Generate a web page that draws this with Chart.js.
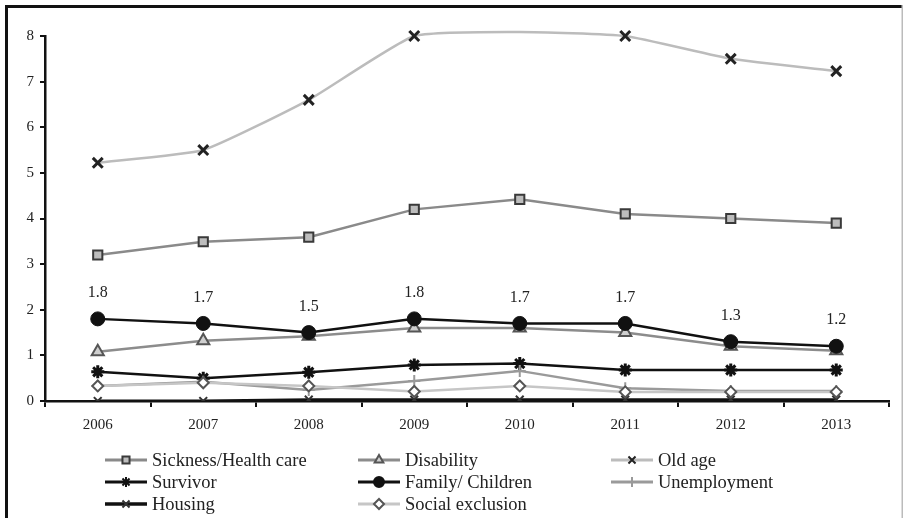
<!DOCTYPE html>
<html><head><meta charset="utf-8">
<script src="https://cdn.jsdelivr.net/npm/chart.js@4"></script>
<style>html,body{margin:0;padding:0;background:#fff}#wrap{width:903px;height:518px;position:relative}</style>
</head><body><div id="wrap"><canvas id="c" width="903" height="518"></canvas></div>
<script>
const years = ['2006','2007','2008','2009','2010','2011','2012','2013'];
const sickness = [3.2,3.49,3.59,4.2,4.42,4.1,4.0,3.9];
const disability = [1.08,1.32,1.42,1.6,1.6,1.5,1.2,1.1];
const oldAge = [5.22,5.5,6.6,8.0,8.09,8.0,7.5,7.23];
const survivor = [0.64,0.5,0.63,0.79,0.82,0.68,0.68,0.68];
const family = [1.8,1.7,1.5,1.8,1.7,1.7,1.3,1.2];
const unemployment = [0.33,0.42,0.24,0.44,0.66,0.28,0.22,0.22];
const housing = [0,0,0.03,0.03,0.03,0.03,0.03,0.03];
const socialExclusion = [0.33,0.4,0.33,0.21,0.33,0.2,0.2,0.2];
const seriesNames = ['Sickness/Health care','Disability','Old age','Survivor','Family/ Children','Unemployment','Housing','Social exclusion'];

const SERIF = '"Liberation Serif", "Times New Roman", serif';

function ds(label, data, line, style, bg, pb, r, extra) {
  return Object.assign({
    label, data, borderColor: line, borderWidth: 2.5, pointStyle: style,
    pointBackgroundColor: bg, pointBorderColor: pb, pointBorderWidth: 2,
    pointRadius: r, tension: 0, fill: false
  }, extra || {});
}

const datasets = [
  ds(seriesNames[0], sickness, '#8a8a8a', 'rect', '#bdbdbd', '#3a3a3a', 6.5),
  ds(seriesNames[1], disability, '#8c8c8c', 'triangle', '#cfcfcf', '#555', 7),
  ds(seriesNames[2], oldAge, '#bcbcbc', 'crossRot', '#222', '#222', 7, {tension: 0.15, clip: false, pointRadius: [7,7,7,7,0,7,7,7], pointBorderWidth: 3}),
  ds(seriesNames[3], survivor, '#111', 'star', '#111', '#111', 6.5, {pointBorderWidth: 3}),
  ds(seriesNames[4], family, '#111', 'circle', '#111', '#111', 7, {pointBorderWidth: 1}),
  ds(seriesNames[5], unemployment, '#9a9a9a', 'cross', '#999', '#999', 6),
  ds(seriesNames[6], housing, '#111', 'crossRot', '#111', '#333', 5.5, {borderWidth: 3}),
  ds(seriesNames[7], socialExclusion, '#c6c6c6', 'rectRot', '#fff', '#555', 5.5)
];
datasets.forEach((d, i) => { d.order = datasets.length - i; });

const framePlugin = {
  id: 'frame',
  beforeDraw(chart) {
    const ctx = chart.ctx;
    ctx.save();
    ctx.fillStyle = '#fff';
    ctx.fillRect(0, 0, chart.width, chart.height);
    ctx.fillStyle = '#111';
    ctx.fillRect(5, 5, chart.width - 5, 3);
    ctx.fillRect(5, 5, 3, chart.height - 5);
    ctx.fillStyle = '#bbb';
    ctx.fillRect(chart.width - 1.5, 5, 1.5, chart.height - 5);
    ctx.restore();
  }
};

const labelPlugin = {
  id: 'famLabels',
  afterDatasetsDraw(chart) {
    const ctx = chart.ctx;
    const meta = chart.getDatasetMeta(4);
    ctx.save();
    ctx.font = '16px ' + SERIF;
    ctx.fillStyle = '#222';
    ctx.textAlign = 'center';
    ctx.textBaseline = 'middle';
    meta.data.forEach((pt, i) => {
      ctx.fillText(family[i].toFixed(1), pt.x, pt.y - 26);
    });
    ctx.restore();
  }
};

const legendPlugin = {
  id: 'gridLegend',
  afterDraw(chart) {
    const ctx = chart.ctx;
    const colX = [105, 358, 611];
    const rowY = [460, 482, 504];
    ctx.save();
    chart.data.datasets.forEach((d, i) => {
      const x = colX[i % 3], y = rowY[Math.floor(i / 3)];
      ctx.strokeStyle = d.borderColor;
      ctx.lineWidth = d.borderWidth + 0.5;
      ctx.beginPath(); ctx.moveTo(x, y); ctx.lineTo(x + 42, y); ctx.stroke();
      ctx.fillStyle = d.pointBackgroundColor;
      ctx.strokeStyle = d.pointBorderColor;
      ctx.lineWidth = 2;
      Chart.helpers.drawPoint(ctx, {pointStyle: d.pointStyle, radius: 5, borderWidth: 2, rotation: 0}, x + 21, y);
      ctx.fillStyle = '#222';
      ctx.font = '18.5px ' + SERIF;
      ctx.textAlign = 'left';
      ctx.textBaseline = 'middle';
      ctx.fillText(d.label, x + 47, y + 1);
    });
    ctx.restore();
  }
};

new Chart(document.getElementById('c'), {
  type: 'line',
  data: { labels: years, datasets },
  options: {
    responsive: false,
    animation: false,
    devicePixelRatio: 1,
    layout: { padding: { left: 0, right: 14, top: 36, bottom: 77 } },
    plugins: { legend: { display: false }, tooltip: { enabled: false } },
    scales: {
      x: {
        offset: true,
        grid: { display: true, offset: true, drawOnChartArea: false, drawTicks: true, tickLength: 6, color: '#111', lineWidth: 2 },
        border: { display: true, color: '#111', width: 2.5 },
        ticks: { font: { family: SERIF, size: 15 }, color: '#222', padding: 9, maxRotation: 0 },
        afterFit(s) { s.height = 40; }
      },
      y: {
        min: 0, max: 8,
        grid: { display: true, drawOnChartArea: false, drawTicks: true, tickLength: 5, color: '#111', lineWidth: 2 },
        border: { display: true, color: '#111', width: 2.5 },
        ticks: { stepSize: 1, font: { family: SERIF, size: 15 }, color: '#222', padding: 6 },
        afterFit(s) { s.width = 45; }
      }
    }
  },
  plugins: [framePlugin, labelPlugin, legendPlugin]
});
</script>
</body></html>
